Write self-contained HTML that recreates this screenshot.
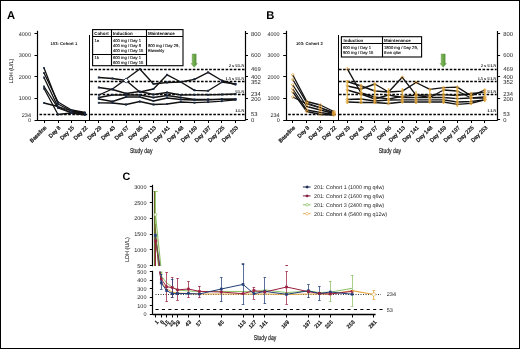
<!DOCTYPE html><html><head><meta charset="utf-8"><style>html,body{margin:0;padding:0;background:#fff;}svg{display:block;will-change:transform;}text{font-family:"Liberation Sans", sans-serif;text-rendering:geometricPrecision;}</style></head><body>
<svg width="520" height="349" viewBox="0 0 520 349">
<defs><linearGradient id="ag" x1="0" x2="1" y1="0" y2="0"><stop offset="0" stop-color="#8cc067"/><stop offset="1" stop-color="#4f8f31"/></linearGradient></defs>
<rect x="0" y="0" width="520" height="349" fill="#fff"/>
<text x="7.00" y="18.80" font-size="11.2" text-anchor="start" font-weight="bold" fill="#000" >A</text>
<line x1="37.50" y1="30.80" x2="37.50" y2="120.50" stroke="#000" stroke-width="1.2" />
<line x1="34.50" y1="33.50" x2="37.50" y2="33.50" stroke="#000" stroke-width="1" />
<text x="31.00" y="35.80" font-size="5.5" text-anchor="end" font-weight="normal" fill="#222" >4000</text>
<line x1="34.50" y1="55.50" x2="37.50" y2="55.50" stroke="#000" stroke-width="1" />
<text x="31.00" y="57.35" font-size="5.5" text-anchor="end" font-weight="normal" fill="#222" >3000</text>
<line x1="34.50" y1="76.50" x2="37.50" y2="76.50" stroke="#000" stroke-width="1" />
<text x="31.00" y="78.90" font-size="5.5" text-anchor="end" font-weight="normal" fill="#222" >2000</text>
<line x1="34.50" y1="98.50" x2="37.50" y2="98.50" stroke="#000" stroke-width="1" />
<text x="31.00" y="100.45" font-size="5.5" text-anchor="end" font-weight="normal" fill="#222" >1000</text>
<text x="31.00" y="116.96" font-size="5.5" text-anchor="end" font-weight="normal" fill="#222" >234</text>
<text x="31.00" y="122.00" font-size="5.5" text-anchor="end" font-weight="normal" fill="#222" >0</text>
<line x1="34.50" y1="120.50" x2="245.50" y2="120.50" stroke="#000" stroke-width="1.2" />
<line x1="44.50" y1="120.00" x2="44.50" y2="123.00" stroke="#000" stroke-width="1" />
<text x="0" y="0" font-size="5.5" text-anchor="end" fill="#222" stroke="#222" stroke-width="0.3" transform="translate(47.00,128.00) rotate(-45)">Baseline</text>
<line x1="58.50" y1="120.00" x2="58.50" y2="123.00" stroke="#000" stroke-width="1" />
<text x="0" y="0" font-size="5.5" text-anchor="end" fill="#222" stroke="#222" stroke-width="0.3" transform="translate(61.00,128.00) rotate(-45)">Day 8</text>
<line x1="71.50" y1="120.00" x2="71.50" y2="123.00" stroke="#000" stroke-width="1" />
<text x="0" y="0" font-size="5.5" text-anchor="end" fill="#222" stroke="#222" stroke-width="0.3" transform="translate(74.50,128.00) rotate(-45)">Day 15</text>
<line x1="85.50" y1="120.00" x2="85.50" y2="123.00" stroke="#000" stroke-width="1" />
<text x="0" y="0" font-size="5.5" text-anchor="end" fill="#222" stroke="#222" stroke-width="0.3" transform="translate(88.00,128.00) rotate(-45)">Day 22</text>
<line x1="89.50" y1="35.00" x2="89.50" y2="120.00" stroke="#000" stroke-width="1" />
<line x1="39.50" y1="114.50" x2="88.30" y2="114.50" stroke="#000" stroke-width="1.3" stroke-dasharray="2.6,1.5" />
<text x="50.50" y="45.10" font-size="4.2" text-anchor="start" font-weight="bold" fill="#111" >103: Cohort 1</text>
<line x1="98.50" y1="120.00" x2="98.50" y2="123.00" stroke="#000" stroke-width="1" />
<text x="0" y="0" font-size="5.5" text-anchor="end" fill="#222" stroke="#222" stroke-width="0.3" transform="translate(101.80,128.00) rotate(-45)">Day 29</text>
<line x1="112.50" y1="120.00" x2="112.50" y2="123.00" stroke="#000" stroke-width="1" />
<text x="0" y="0" font-size="5.5" text-anchor="end" fill="#222" stroke="#222" stroke-width="0.3" transform="translate(115.47,128.00) rotate(-45)">Day 43</text>
<line x1="126.50" y1="120.00" x2="126.50" y2="123.00" stroke="#000" stroke-width="1" />
<text x="0" y="0" font-size="5.5" text-anchor="end" fill="#222" stroke="#222" stroke-width="0.3" transform="translate(129.14,128.00) rotate(-45)">Day 57</text>
<line x1="139.50" y1="120.00" x2="139.50" y2="123.00" stroke="#000" stroke-width="1" />
<text x="0" y="0" font-size="5.5" text-anchor="end" fill="#222" stroke="#222" stroke-width="0.3" transform="translate(142.81,128.00) rotate(-45)">Day 85</text>
<line x1="153.50" y1="120.00" x2="153.50" y2="123.00" stroke="#000" stroke-width="1" />
<text x="0" y="0" font-size="5.5" text-anchor="end" fill="#222" stroke="#222" stroke-width="0.3" transform="translate(156.48,128.00) rotate(-45)">Day 113</text>
<line x1="167.50" y1="120.00" x2="167.50" y2="123.00" stroke="#000" stroke-width="1" />
<text x="0" y="0" font-size="5.5" text-anchor="end" fill="#222" stroke="#222" stroke-width="0.3" transform="translate(170.15,128.00) rotate(-45)">Day 141</text>
<line x1="180.50" y1="120.00" x2="180.50" y2="123.00" stroke="#000" stroke-width="1" />
<text x="0" y="0" font-size="5.5" text-anchor="end" fill="#222" stroke="#222" stroke-width="0.3" transform="translate(183.82,128.00) rotate(-45)">Day 148</text>
<line x1="194.50" y1="120.00" x2="194.50" y2="123.00" stroke="#000" stroke-width="1" />
<text x="0" y="0" font-size="5.5" text-anchor="end" fill="#222" stroke="#222" stroke-width="0.3" transform="translate(197.49,128.00) rotate(-45)">Day 169</text>
<line x1="208.50" y1="120.00" x2="208.50" y2="123.00" stroke="#000" stroke-width="1" />
<text x="0" y="0" font-size="5.5" text-anchor="end" fill="#222" stroke="#222" stroke-width="0.3" transform="translate(211.16,128.00) rotate(-45)">Day 197</text>
<line x1="221.50" y1="120.00" x2="221.50" y2="123.00" stroke="#000" stroke-width="1" />
<text x="0" y="0" font-size="5.5" text-anchor="end" fill="#222" stroke="#222" stroke-width="0.3" transform="translate(224.83,128.00) rotate(-45)">Day 225</text>
<line x1="235.50" y1="120.00" x2="235.50" y2="123.00" stroke="#000" stroke-width="1" />
<text x="0" y="0" font-size="5.5" text-anchor="end" fill="#222" stroke="#222" stroke-width="0.3" transform="translate(238.50,128.00) rotate(-45)">Day 253</text>
<line x1="245.50" y1="31.00" x2="245.50" y2="120.50" stroke="#000" stroke-width="1.2" />
<line x1="245.50" y1="33.50" x2="248.00" y2="33.50" stroke="#000" stroke-width="1" />
<line x1="245.50" y1="55.50" x2="248.00" y2="55.50" stroke="#000" stroke-width="1" />
<line x1="245.50" y1="76.50" x2="248.00" y2="76.50" stroke="#000" stroke-width="1" />
<line x1="245.50" y1="98.50" x2="248.00" y2="98.50" stroke="#000" stroke-width="1" />
<line x1="245.50" y1="119.50" x2="248.00" y2="119.50" stroke="#000" stroke-width="1" />
<text x="251.10" y="35.64" font-size="5.8" text-anchor="start" font-weight="normal" fill="#222" >800</text>
<text x="251.10" y="57.18" font-size="5.8" text-anchor="start" font-weight="normal" fill="#222" >600</text>
<text x="251.10" y="71.29" font-size="5.8" text-anchor="start" font-weight="normal" fill="#222" >469</text>
<text x="251.10" y="78.72" font-size="5.8" text-anchor="start" font-weight="normal" fill="#222" >400</text>
<text x="251.10" y="83.89" font-size="5.8" text-anchor="start" font-weight="normal" fill="#222" >352</text>
<text x="251.10" y="95.70" font-size="5.8" text-anchor="start" font-weight="normal" fill="#222" >234</text>
<text x="251.10" y="100.66" font-size="5.8" text-anchor="start" font-weight="normal" fill="#222" >200</text>
<text x="251.10" y="116.09" font-size="5.8" text-anchor="start" font-weight="normal" fill="#222" >53</text>
<text x="251.10" y="121.80" font-size="5.8" text-anchor="start" font-weight="normal" fill="#222" >0</text>
<line x1="90.30" y1="69.50" x2="244.50" y2="69.50" stroke="#000" stroke-width="1.3" stroke-dasharray="2.6,1.5" />
<text x="244.30" y="67.19" font-size="4.3" text-anchor="end" font-weight="bold" fill="#222" font-family="Liberation Serif, serif" style="font-family:'Liberation Serif', serif">2 x ULN</text>
<line x1="90.30" y1="81.50" x2="244.50" y2="81.50" stroke="#000" stroke-width="1.3" stroke-dasharray="2.6,1.5" />
<text x="244.30" y="79.79" font-size="4.3" text-anchor="end" font-weight="bold" fill="#222" font-family="Liberation Serif, serif" style="font-family:'Liberation Serif', serif">1.5 x ULN</text>
<line x1="90.30" y1="94.50" x2="244.50" y2="94.50" stroke="#000" stroke-width="1.3" stroke-dasharray="2.6,1.5" />
<text x="244.30" y="92.50" font-size="4.3" text-anchor="end" font-weight="bold" fill="#222" font-family="Liberation Serif, serif" style="font-family:'Liberation Serif', serif">ULN</text>
<line x1="90.30" y1="114.50" x2="244.50" y2="114.50" stroke="#000" stroke-width="1.3" stroke-dasharray="2.6,1.5" />
<text x="244.30" y="111.99" font-size="4.3" text-anchor="end" font-weight="bold" fill="#222" font-family="Liberation Serif, serif" style="font-family:'Liberation Serif', serif">LLN</text>
<text x="0" y="0" font-size="7" text-anchor="middle" fill="#222" stroke="#222" stroke-width="0.2" transform="translate(141.20,153.00) scale(0.72,1)">Study day</text>
<text x="0" y="0" font-size="5.5" text-anchor="middle" fill="#222" stroke="#222" stroke-width="0.1" transform="translate(13.2,71) rotate(-90)">LDH (U/L)</text>
<rect x="92.6" y="29.6" width="90.4" height="36.1" fill="#fff" stroke="#000" stroke-width="1.1"/>
<line x1="92.60" y1="36.50" x2="183.00" y2="36.50" stroke="#000" stroke-width="1.1" />
<line x1="111.50" y1="29.60" x2="111.50" y2="65.70" stroke="#000" stroke-width="1.1" />
<line x1="146.50" y1="29.60" x2="146.50" y2="65.70" stroke="#000" stroke-width="1.1" />
<line x1="92.60" y1="54.50" x2="146.50" y2="54.50" stroke="#000" stroke-width="1.1" />
<text x="94.20" y="35.00" font-size="4.45" text-anchor="start" font-weight="bold" fill="#000" >Cohort</text>
<text x="112.80" y="35.00" font-size="4.45" text-anchor="start" font-weight="bold" fill="#000" >Induction</text>
<text x="147.90" y="35.00" font-size="4.45" text-anchor="start" font-weight="bold" fill="#000" >Maintenance</text>
<text x="94.50" y="42.00" font-size="4.15" text-anchor="start" font-weight="normal" fill="#111" stroke="#111" stroke-width="0.12">1a</text>
<text x="113.00" y="42.00" font-size="4.15" text-anchor="start" font-weight="normal" fill="#111" stroke="#111" stroke-width="0.12">400 mg / Day 1</text>
<text x="113.00" y="47.00" font-size="4.15" text-anchor="start" font-weight="normal" fill="#111" stroke="#111" stroke-width="0.12">400 mg / Day 8</text>
<text x="113.00" y="52.00" font-size="4.15" text-anchor="start" font-weight="normal" fill="#111" stroke="#111" stroke-width="0.12">400 mg / Day 15</text>
<text x="94.50" y="59.00" font-size="4.15" text-anchor="start" font-weight="normal" fill="#111" stroke="#111" stroke-width="0.12">1b</text>
<text x="113.00" y="59.00" font-size="4.15" text-anchor="start" font-weight="normal" fill="#111" stroke="#111" stroke-width="0.12">600 mg / Day 1</text>
<text x="113.00" y="63.80" font-size="4.15" text-anchor="start" font-weight="normal" fill="#111" stroke="#111" stroke-width="0.12">600 mg / Day 15</text>
<text x="148.00" y="47.30" font-size="4.15" text-anchor="start" font-weight="normal" fill="#111" stroke="#111" stroke-width="0.12">800 mg / Day 29,</text>
<text x="148.00" y="52.30" font-size="4.15" text-anchor="start" font-weight="normal" fill="#111" stroke="#111" stroke-width="0.12">Biweekly</text>
<polygon points="192.20,54.00 196.20,54.00 196.20,63.60 197.40,63.60 194.20,67.20 191.00,63.60 192.20,63.60" fill="url(#ag)" stroke="#4f8a33" stroke-width="0.4"/>
<text x="266.30" y="18.80" font-size="11.2" text-anchor="start" font-weight="bold" fill="#000" >B</text>
<line x1="286.50" y1="30.80" x2="286.50" y2="120.50" stroke="#000" stroke-width="1.2" />
<line x1="283.20" y1="33.50" x2="286.20" y2="33.50" stroke="#000" stroke-width="1" />
<text x="279.70" y="35.80" font-size="5.5" text-anchor="end" font-weight="normal" fill="#222" >4000</text>
<line x1="283.20" y1="55.50" x2="286.20" y2="55.50" stroke="#000" stroke-width="1" />
<text x="279.70" y="57.35" font-size="5.5" text-anchor="end" font-weight="normal" fill="#222" >3000</text>
<line x1="283.20" y1="76.50" x2="286.20" y2="76.50" stroke="#000" stroke-width="1" />
<text x="279.70" y="78.90" font-size="5.5" text-anchor="end" font-weight="normal" fill="#222" >2000</text>
<line x1="283.20" y1="98.50" x2="286.20" y2="98.50" stroke="#000" stroke-width="1" />
<text x="279.70" y="100.45" font-size="5.5" text-anchor="end" font-weight="normal" fill="#222" >1000</text>
<text x="279.70" y="116.96" font-size="5.5" text-anchor="end" font-weight="normal" fill="#222" >234</text>
<text x="279.70" y="122.00" font-size="5.5" text-anchor="end" font-weight="normal" fill="#222" >0</text>
<line x1="283.20" y1="120.50" x2="497.60" y2="120.50" stroke="#000" stroke-width="1.2" />
<line x1="292.50" y1="120.00" x2="292.50" y2="123.00" stroke="#000" stroke-width="1" />
<text x="0" y="0" font-size="5.5" text-anchor="end" fill="#222" stroke="#222" stroke-width="0.3" transform="translate(295.70,128.00) rotate(-45)">Baseline</text>
<line x1="306.50" y1="120.00" x2="306.50" y2="123.00" stroke="#000" stroke-width="1" />
<text x="0" y="0" font-size="5.5" text-anchor="end" fill="#222" stroke="#222" stroke-width="0.3" transform="translate(309.70,128.00) rotate(-45)">Day 8</text>
<line x1="320.50" y1="120.00" x2="320.50" y2="123.00" stroke="#000" stroke-width="1" />
<text x="0" y="0" font-size="5.5" text-anchor="end" fill="#222" stroke="#222" stroke-width="0.3" transform="translate(323.20,128.00) rotate(-45)">Day 15</text>
<line x1="333.50" y1="120.00" x2="333.50" y2="123.00" stroke="#000" stroke-width="1" />
<text x="0" y="0" font-size="5.5" text-anchor="end" fill="#222" stroke="#222" stroke-width="0.3" transform="translate(336.70,128.00) rotate(-45)">Day 22</text>
<line x1="338.50" y1="35.00" x2="338.50" y2="120.00" stroke="#000" stroke-width="1" />
<line x1="288.20" y1="114.50" x2="337.00" y2="114.50" stroke="#000" stroke-width="1.3" stroke-dasharray="2.6,1.5" />
<text x="296.00" y="45.10" font-size="4.2" text-anchor="start" font-weight="bold" fill="#111" >103: Cohort 2</text>
<line x1="347.50" y1="120.00" x2="347.50" y2="123.00" stroke="#000" stroke-width="1" />
<text x="0" y="0" font-size="5.5" text-anchor="end" fill="#222" stroke="#222" stroke-width="0.3" transform="translate(350.30,128.00) rotate(-45)">Day 29</text>
<line x1="361.50" y1="120.00" x2="361.50" y2="123.00" stroke="#000" stroke-width="1" />
<text x="0" y="0" font-size="5.5" text-anchor="end" fill="#222" stroke="#222" stroke-width="0.3" transform="translate(364.05,128.00) rotate(-45)">Day 43</text>
<line x1="374.50" y1="120.00" x2="374.50" y2="123.00" stroke="#000" stroke-width="1" />
<text x="0" y="0" font-size="5.5" text-anchor="end" fill="#222" stroke="#222" stroke-width="0.3" transform="translate(377.80,128.00) rotate(-45)">Day 57</text>
<line x1="388.50" y1="120.00" x2="388.50" y2="123.00" stroke="#000" stroke-width="1" />
<text x="0" y="0" font-size="5.5" text-anchor="end" fill="#222" stroke="#222" stroke-width="0.3" transform="translate(391.55,128.00) rotate(-45)">Day 85</text>
<line x1="402.50" y1="120.00" x2="402.50" y2="123.00" stroke="#000" stroke-width="1" />
<text x="0" y="0" font-size="5.5" text-anchor="end" fill="#222" stroke="#222" stroke-width="0.3" transform="translate(405.30,128.00) rotate(-45)">Day 113</text>
<line x1="416.50" y1="120.00" x2="416.50" y2="123.00" stroke="#000" stroke-width="1" />
<text x="0" y="0" font-size="5.5" text-anchor="end" fill="#222" stroke="#222" stroke-width="0.3" transform="translate(419.05,128.00) rotate(-45)">Day 141</text>
<line x1="429.50" y1="120.00" x2="429.50" y2="123.00" stroke="#000" stroke-width="1" />
<text x="0" y="0" font-size="5.5" text-anchor="end" fill="#222" stroke="#222" stroke-width="0.3" transform="translate(432.80,128.00) rotate(-45)">Day 148</text>
<line x1="443.50" y1="120.00" x2="443.50" y2="123.00" stroke="#000" stroke-width="1" />
<text x="0" y="0" font-size="5.5" text-anchor="end" fill="#222" stroke="#222" stroke-width="0.3" transform="translate(446.55,128.00) rotate(-45)">Day 169</text>
<line x1="457.50" y1="120.00" x2="457.50" y2="123.00" stroke="#000" stroke-width="1" />
<text x="0" y="0" font-size="5.5" text-anchor="end" fill="#222" stroke="#222" stroke-width="0.3" transform="translate(460.30,128.00) rotate(-45)">Day 197</text>
<line x1="471.50" y1="120.00" x2="471.50" y2="123.00" stroke="#000" stroke-width="1" />
<text x="0" y="0" font-size="5.5" text-anchor="end" fill="#222" stroke="#222" stroke-width="0.3" transform="translate(474.05,128.00) rotate(-45)">Day 225</text>
<line x1="484.50" y1="120.00" x2="484.50" y2="123.00" stroke="#000" stroke-width="1" />
<text x="0" y="0" font-size="5.5" text-anchor="end" fill="#222" stroke="#222" stroke-width="0.3" transform="translate(487.80,128.00) rotate(-45)">Day 253</text>
<line x1="497.50" y1="31.00" x2="497.50" y2="120.50" stroke="#000" stroke-width="1.2" />
<line x1="497.60" y1="33.50" x2="500.10" y2="33.50" stroke="#000" stroke-width="1" />
<line x1="497.60" y1="55.50" x2="500.10" y2="55.50" stroke="#000" stroke-width="1" />
<line x1="497.60" y1="76.50" x2="500.10" y2="76.50" stroke="#000" stroke-width="1" />
<line x1="497.60" y1="98.50" x2="500.10" y2="98.50" stroke="#000" stroke-width="1" />
<line x1="497.60" y1="119.50" x2="500.10" y2="119.50" stroke="#000" stroke-width="1" />
<text x="503.20" y="35.64" font-size="5.8" text-anchor="start" font-weight="normal" fill="#222" >800</text>
<text x="503.20" y="57.18" font-size="5.8" text-anchor="start" font-weight="normal" fill="#222" >600</text>
<text x="503.20" y="71.29" font-size="5.8" text-anchor="start" font-weight="normal" fill="#222" >469</text>
<text x="503.20" y="78.72" font-size="5.8" text-anchor="start" font-weight="normal" fill="#222" >400</text>
<text x="503.20" y="83.89" font-size="5.8" text-anchor="start" font-weight="normal" fill="#222" >352</text>
<text x="503.20" y="95.70" font-size="5.8" text-anchor="start" font-weight="normal" fill="#222" >234</text>
<text x="503.20" y="100.66" font-size="5.8" text-anchor="start" font-weight="normal" fill="#222" >200</text>
<text x="503.20" y="116.09" font-size="5.8" text-anchor="start" font-weight="normal" fill="#222" >53</text>
<text x="503.20" y="121.80" font-size="5.8" text-anchor="start" font-weight="normal" fill="#222" >0</text>
<line x1="339.00" y1="69.50" x2="496.60" y2="69.50" stroke="#000" stroke-width="1.3" stroke-dasharray="2.6,1.5" />
<text x="496.40" y="67.19" font-size="4.3" text-anchor="end" font-weight="bold" fill="#222" font-family="Liberation Serif, serif" style="font-family:'Liberation Serif', serif">2 x ULN</text>
<line x1="339.00" y1="81.50" x2="496.60" y2="81.50" stroke="#000" stroke-width="1.3" stroke-dasharray="2.6,1.5" />
<text x="496.40" y="79.79" font-size="4.3" text-anchor="end" font-weight="bold" fill="#222" font-family="Liberation Serif, serif" style="font-family:'Liberation Serif', serif">1.5 x ULN</text>
<line x1="339.00" y1="94.50" x2="496.60" y2="94.50" stroke="#000" stroke-width="1.3" stroke-dasharray="2.6,1.5" />
<text x="496.40" y="92.50" font-size="4.3" text-anchor="end" font-weight="bold" fill="#222" font-family="Liberation Serif, serif" style="font-family:'Liberation Serif', serif">ULN</text>
<line x1="339.00" y1="114.50" x2="496.60" y2="114.50" stroke="#000" stroke-width="1.3" stroke-dasharray="2.6,1.5" />
<text x="496.40" y="111.99" font-size="4.3" text-anchor="end" font-weight="bold" fill="#222" font-family="Liberation Serif, serif" style="font-family:'Liberation Serif', serif">LLN</text>
<text x="0" y="0" font-size="7" text-anchor="middle" fill="#222" stroke="#222" stroke-width="0.2" transform="translate(389.90,153.00) scale(0.72,1)">Study day</text>
<rect x="341.4" y="36.7" width="80.20000000000005" height="20.299999999999997" fill="#fff" stroke="#000" stroke-width="1.1"/>
<line x1="341.40" y1="43.50" x2="421.60" y2="43.50" stroke="#000" stroke-width="1.1" />
<line x1="382.50" y1="36.70" x2="382.50" y2="57.00" stroke="#000" stroke-width="1.1" />
<text x="343.50" y="42.00" font-size="4.4" text-anchor="start" font-weight="bold" fill="#000" >Induction</text>
<text x="384.00" y="42.00" font-size="4.4" text-anchor="start" font-weight="bold" fill="#000" >Maintenance</text>
<text x="343.00" y="49.00" font-size="4.15" text-anchor="start" font-weight="normal" fill="#111" stroke="#111" stroke-width="0.12">600 mg / Day 1</text>
<text x="343.00" y="54.00" font-size="4.15" text-anchor="start" font-weight="normal" fill="#111" stroke="#111" stroke-width="0.12">900 mg / Day 15</text>
<text x="384.00" y="49.00" font-size="4.15" text-anchor="start" font-weight="normal" fill="#111" stroke="#111" stroke-width="0.12">1800 mg / Day 29,</text>
<text x="384.00" y="54.00" font-size="4.15" text-anchor="start" font-weight="normal" fill="#111" stroke="#111" stroke-width="0.12">then q4w</text>
<polygon points="441.20,54.00 445.20,54.00 445.20,63.60 446.40,63.60 443.20,67.20 440.00,63.60 441.20,63.60" fill="url(#ag)" stroke="#4f8a33" stroke-width="0.4"/>
<text x="122.40" y="180.10" font-size="10.8" text-anchor="start" font-weight="bold" fill="#000" >C</text>
<line x1="152.50" y1="184.80" x2="152.50" y2="266.30" stroke="#000" stroke-width="1.2" />
<line x1="152.50" y1="270.80" x2="152.50" y2="314.50" stroke="#000" stroke-width="1.2" />
<line x1="149.80" y1="186.50" x2="152.80" y2="186.50" stroke="#000" stroke-width="1" />
<text x="146.50" y="188.80" font-size="5.5" text-anchor="end" font-weight="normal" fill="#222" >3000</text>
<line x1="149.80" y1="202.50" x2="152.80" y2="202.50" stroke="#000" stroke-width="1" />
<text x="146.50" y="204.54" font-size="5.5" text-anchor="end" font-weight="normal" fill="#222" >2500</text>
<line x1="149.80" y1="218.50" x2="152.80" y2="218.50" stroke="#000" stroke-width="1" />
<text x="146.50" y="220.28" font-size="5.5" text-anchor="end" font-weight="normal" fill="#222" >2000</text>
<line x1="149.80" y1="234.50" x2="152.80" y2="234.50" stroke="#000" stroke-width="1" />
<text x="146.50" y="236.02" font-size="5.5" text-anchor="end" font-weight="normal" fill="#222" >1500</text>
<line x1="149.80" y1="249.50" x2="152.80" y2="249.50" stroke="#000" stroke-width="1" />
<text x="146.50" y="251.76" font-size="5.5" text-anchor="end" font-weight="normal" fill="#222" >1000</text>
<line x1="149.80" y1="265.50" x2="152.80" y2="265.50" stroke="#000" stroke-width="1" />
<text x="146.50" y="267.50" font-size="5.5" text-anchor="end" font-weight="normal" fill="#222" >500</text>
<line x1="149.80" y1="271.50" x2="152.80" y2="271.50" stroke="#000" stroke-width="1" />
<text x="146.50" y="273.80" font-size="5.5" text-anchor="end" font-weight="normal" fill="#222" >500</text>
<line x1="149.80" y1="280.50" x2="152.80" y2="280.50" stroke="#000" stroke-width="1" />
<text x="146.50" y="282.24" font-size="5.5" text-anchor="end" font-weight="normal" fill="#222" >400</text>
<line x1="149.80" y1="288.50" x2="152.80" y2="288.50" stroke="#000" stroke-width="1" />
<text x="146.50" y="290.68" font-size="5.5" text-anchor="end" font-weight="normal" fill="#222" >300</text>
<line x1="149.80" y1="297.50" x2="152.80" y2="297.50" stroke="#000" stroke-width="1" />
<text x="146.50" y="299.12" font-size="5.5" text-anchor="end" font-weight="normal" fill="#222" >200</text>
<line x1="149.80" y1="305.50" x2="152.80" y2="305.50" stroke="#000" stroke-width="1" />
<text x="146.50" y="307.56" font-size="5.5" text-anchor="end" font-weight="normal" fill="#222" >100</text>
<line x1="149.80" y1="314.50" x2="152.80" y2="314.50" stroke="#000" stroke-width="1" />
<text x="146.50" y="316.00" font-size="5.5" text-anchor="end" font-weight="normal" fill="#222" >0</text>
<line x1="152.80" y1="314.50" x2="375.60" y2="314.50" stroke="#000" stroke-width="1.5" />
<line x1="155.50" y1="314.00" x2="155.50" y2="317.50" stroke="#000" stroke-width="1" />
<text x="0" y="0" font-size="5.3" text-anchor="end" fill="#222" stroke="#222" stroke-width="0.3" transform="translate(158.78,322.50) rotate(-45)">1</text>
<line x1="161.50" y1="314.00" x2="161.50" y2="317.50" stroke="#000" stroke-width="1" />
<text x="0" y="0" font-size="5.3" text-anchor="end" fill="#222" stroke="#222" stroke-width="0.3" transform="translate(164.23,322.50) rotate(-45)">8</text>
<line x1="166.50" y1="314.00" x2="166.50" y2="317.50" stroke="#000" stroke-width="1" />
<text x="0" y="0" font-size="5.3" text-anchor="end" fill="#222" stroke="#222" stroke-width="0.3" transform="translate(169.69,322.50) rotate(-45)">15</text>
<line x1="172.50" y1="314.00" x2="172.50" y2="317.50" stroke="#000" stroke-width="1" />
<text x="0" y="0" font-size="5.3" text-anchor="end" fill="#222" stroke="#222" stroke-width="0.3" transform="translate(175.14,322.50) rotate(-45)">22</text>
<line x1="177.50" y1="314.00" x2="177.50" y2="317.50" stroke="#000" stroke-width="1" />
<text x="0" y="0" font-size="5.3" text-anchor="end" fill="#222" stroke="#222" stroke-width="0.3" transform="translate(180.59,322.50) rotate(-45)">29</text>
<line x1="188.50" y1="314.00" x2="188.50" y2="317.50" stroke="#000" stroke-width="1" />
<text x="0" y="0" font-size="5.3" text-anchor="end" fill="#222" stroke="#222" stroke-width="0.3" transform="translate(191.50,322.50) rotate(-45)">43</text>
<line x1="199.50" y1="314.00" x2="199.50" y2="317.50" stroke="#000" stroke-width="1" />
<text x="0" y="0" font-size="5.3" text-anchor="end" fill="#222" stroke="#222" stroke-width="0.3" transform="translate(202.40,322.50) rotate(-45)">57</text>
<line x1="221.50" y1="314.00" x2="221.50" y2="317.50" stroke="#000" stroke-width="1" />
<text x="0" y="0" font-size="5.3" text-anchor="end" fill="#222" stroke="#222" stroke-width="0.3" transform="translate(224.22,322.50) rotate(-45)">85</text>
<line x1="243.50" y1="314.00" x2="243.50" y2="317.50" stroke="#000" stroke-width="1" />
<text x="0" y="0" font-size="5.3" text-anchor="end" fill="#222" stroke="#222" stroke-width="0.3" transform="translate(246.03,322.50) rotate(-45)">113</text>
<line x1="253.50" y1="314.00" x2="253.50" y2="317.50" stroke="#000" stroke-width="1" />
<text x="0" y="0" font-size="5.3" text-anchor="end" fill="#222" stroke="#222" stroke-width="0.3" transform="translate(256.93,322.50) rotate(-45)">127</text>
<line x1="264.50" y1="314.00" x2="264.50" y2="317.50" stroke="#000" stroke-width="1" />
<text x="0" y="0" font-size="5.3" text-anchor="end" fill="#222" stroke="#222" stroke-width="0.3" transform="translate(267.84,322.50) rotate(-45)">141</text>
<line x1="286.50" y1="314.00" x2="286.50" y2="317.50" stroke="#000" stroke-width="1" />
<text x="0" y="0" font-size="5.3" text-anchor="end" fill="#222" stroke="#222" stroke-width="0.3" transform="translate(289.65,322.50) rotate(-45)">169</text>
<line x1="308.50" y1="314.00" x2="308.50" y2="317.50" stroke="#000" stroke-width="1" />
<text x="0" y="0" font-size="5.3" text-anchor="end" fill="#222" stroke="#222" stroke-width="0.3" transform="translate(311.46,322.50) rotate(-45)">197</text>
<line x1="319.50" y1="314.00" x2="319.50" y2="317.50" stroke="#000" stroke-width="1" />
<text x="0" y="0" font-size="5.3" text-anchor="end" fill="#222" stroke="#222" stroke-width="0.3" transform="translate(322.37,322.50) rotate(-45)">211</text>
<line x1="330.50" y1="314.00" x2="330.50" y2="317.50" stroke="#000" stroke-width="1" />
<text x="0" y="0" font-size="5.3" text-anchor="end" fill="#222" stroke="#222" stroke-width="0.3" transform="translate(333.27,322.50) rotate(-45)">225</text>
<line x1="352.50" y1="314.00" x2="352.50" y2="317.50" stroke="#000" stroke-width="1" />
<text x="0" y="0" font-size="5.3" text-anchor="end" fill="#222" stroke="#222" stroke-width="0.3" transform="translate(355.09,322.50) rotate(-45)">253</text>
<line x1="373.50" y1="314.00" x2="373.50" y2="317.50" stroke="#000" stroke-width="1" />
<text x="0" y="0" font-size="5.3" text-anchor="end" fill="#222" stroke="#222" stroke-width="0.3" transform="translate(376.90,322.50) rotate(-45)">281</text>
<line x1="155.50" y1="294.50" x2="381.00" y2="294.50" stroke="#333" stroke-width="1" stroke-dasharray="1,1.5" />
<text x="386.80" y="295.80" font-size="5.5" text-anchor="start" font-weight="normal" fill="#222" >234</text>
<line x1="155.50" y1="309.50" x2="383.00" y2="309.50" stroke="#000" stroke-width="1.1" stroke-dasharray="3.1,3.3" />
<text x="386.80" y="311.50" font-size="5.5" text-anchor="start" font-weight="normal" fill="#222" >53</text>
<text x="0" y="0" font-size="7" text-anchor="middle" fill="#222" stroke="#222" stroke-width="0.2" transform="translate(265,339.5) scale(0.72,1)">Study day</text>
<text x="0" y="0" font-size="5.5" text-anchor="middle" fill="#222" stroke="#222" stroke-width="0.1" transform="translate(129.3,249.6) rotate(-90)">LDH (U/L)</text>
<line x1="302.90" y1="187.00" x2="310.60" y2="187.00" stroke="#1e2d55" stroke-width="1.0" />
<rect x="305.9" y="185.8" width="2.4" height="2.4" fill="#1e2d55" transform="rotate(45 307.1 187.0)"/>
<text x="314.00" y="189.00" font-size="5.4" text-anchor="start" font-weight="normal" fill="#222" >201: Cohort 1 (1000 mg q4w)</text>
<line x1="302.90" y1="195.90" x2="310.60" y2="195.90" stroke="#7e1b38" stroke-width="1.0" />
<rect x="305.9" y="194.70000000000002" width="2.4" height="2.4" fill="#7e1b38" transform="rotate(45 307.1 195.9)"/>
<text x="314.00" y="197.90" font-size="5.4" text-anchor="start" font-weight="normal" fill="#222" >201: Cohort 2 (1600 mg q6w)</text>
<line x1="302.90" y1="204.80" x2="310.60" y2="204.80" stroke="#8cc063" stroke-width="1.0" />
<circle cx="307.1" cy="204.8" r="1.3" fill="#fff" stroke="#8cc063" stroke-width="0.7"/>
<text x="314.00" y="206.80" font-size="5.4" text-anchor="start" font-weight="normal" fill="#222" >201: Cohort 3 (2400 mg q8w)</text>
<line x1="302.90" y1="213.70" x2="310.60" y2="213.70" stroke="#e3ad5a" stroke-width="1.0" />
<rect x="305.9" y="212.5" width="2.4" height="2.4" fill="#fff" stroke="#e3ad5a" stroke-width="0.7" transform="rotate(45 307.1 213.7)"/>
<text x="314.00" y="215.70" font-size="5.4" text-anchor="start" font-weight="normal" fill="#222" >201: Cohort 4 (5400 mg q12w)</text>
<polyline points="44.00,68.00 58.00,104.00 71.50,111.00 85.00,113.00" fill="none" stroke="#111" stroke-width="1.3" stroke-linejoin="round" />
<polyline points="44.00,73.00 58.00,102.00 71.50,110.00 85.00,112.50" fill="none" stroke="#111" stroke-width="1.3" stroke-linejoin="round" />
<polyline points="44.00,77.50 58.00,107.00 71.50,112.50 85.00,114.00" fill="none" stroke="#111" stroke-width="1.3" stroke-linejoin="round" />
<polyline points="44.00,86.50 58.00,108.00 71.50,113.00 85.00,114.50" fill="none" stroke="#111" stroke-width="1.3" stroke-linejoin="round" />
<polyline points="44.00,88.50 58.00,114.50 71.50,113.00 85.00,115.00" fill="none" stroke="#111" stroke-width="1.3" stroke-linejoin="round" />
<polyline points="44.00,103.00 58.00,106.50 71.50,111.00 85.00,113.50" fill="none" stroke="#111" stroke-width="1.3" stroke-linejoin="round" />
<rect x="43.35" y="67.35" width="1.30" height="1.30" fill="#1c2840" stroke="#1c2840" stroke-width="0.6"/>
<rect x="57.35" y="103.35" width="1.30" height="1.30" fill="#1c2840" stroke="#1c2840" stroke-width="0.6"/>
<rect x="70.85" y="110.35" width="1.30" height="1.30" fill="#1c2840" stroke="#1c2840" stroke-width="0.6"/>
<rect x="84.35" y="112.35" width="1.30" height="1.30" fill="#1c2840" stroke="#1c2840" stroke-width="0.6"/>
<rect x="43.35" y="72.35" width="1.30" height="1.30" fill="#1c2840" stroke="#1c2840" stroke-width="0.6"/>
<rect x="57.35" y="101.35" width="1.30" height="1.30" fill="#1c2840" stroke="#1c2840" stroke-width="0.6"/>
<rect x="70.85" y="109.35" width="1.30" height="1.30" fill="#1c2840" stroke="#1c2840" stroke-width="0.6"/>
<rect x="84.35" y="111.85" width="1.30" height="1.30" fill="#1c2840" stroke="#1c2840" stroke-width="0.6"/>
<rect x="43.35" y="76.85" width="1.30" height="1.30" fill="#1c2840" stroke="#1c2840" stroke-width="0.6"/>
<rect x="57.35" y="106.35" width="1.30" height="1.30" fill="#1c2840" stroke="#1c2840" stroke-width="0.6"/>
<rect x="70.85" y="111.85" width="1.30" height="1.30" fill="#1c2840" stroke="#1c2840" stroke-width="0.6"/>
<rect x="84.35" y="113.35" width="1.30" height="1.30" fill="#1c2840" stroke="#1c2840" stroke-width="0.6"/>
<rect x="43.35" y="85.85" width="1.30" height="1.30" fill="#1c2840" stroke="#1c2840" stroke-width="0.6"/>
<rect x="57.35" y="107.35" width="1.30" height="1.30" fill="#1c2840" stroke="#1c2840" stroke-width="0.6"/>
<rect x="70.85" y="112.35" width="1.30" height="1.30" fill="#1c2840" stroke="#1c2840" stroke-width="0.6"/>
<rect x="84.35" y="113.85" width="1.30" height="1.30" fill="#1c2840" stroke="#1c2840" stroke-width="0.6"/>
<rect x="43.35" y="87.85" width="1.30" height="1.30" fill="#1c2840" stroke="#1c2840" stroke-width="0.6"/>
<rect x="57.35" y="113.85" width="1.30" height="1.30" fill="#1c2840" stroke="#1c2840" stroke-width="0.6"/>
<rect x="70.85" y="112.35" width="1.30" height="1.30" fill="#1c2840" stroke="#1c2840" stroke-width="0.6"/>
<rect x="84.35" y="114.35" width="1.30" height="1.30" fill="#1c2840" stroke="#1c2840" stroke-width="0.6"/>
<rect x="43.35" y="102.35" width="1.30" height="1.30" fill="#1c2840" stroke="#1c2840" stroke-width="0.6"/>
<rect x="57.35" y="105.85" width="1.30" height="1.30" fill="#1c2840" stroke="#1c2840" stroke-width="0.6"/>
<rect x="70.85" y="110.35" width="1.30" height="1.30" fill="#1c2840" stroke="#1c2840" stroke-width="0.6"/>
<rect x="84.35" y="112.85" width="1.30" height="1.30" fill="#1c2840" stroke="#1c2840" stroke-width="0.6"/>
<polyline points="98.80,95.00 112.47,89.00 126.14,79.00 139.81,69.00 153.48,84.00 167.15,82.50 180.82,82.00 194.49,79.30 208.16,72.40 221.83,80.50 235.50,84.50" fill="none" stroke="#111" stroke-width="1.35" stroke-linejoin="round" />
<polyline points="98.80,77.50 112.47,78.50 126.14,80.50 139.81,92.00 153.48,89.00 167.15,74.80 180.82,82.00 194.49,90.30 208.16,90.80 221.83,82.20 235.50,84.00" fill="none" stroke="#111" stroke-width="1.35" stroke-linejoin="round" />
<polyline points="98.80,87.50 112.47,89.50 126.14,93.50 139.81,91.50 153.48,94.50 167.15,92.50 180.82,95.00 194.49,94.80 208.16,94.80 221.83,94.50 235.50,94.00" fill="none" stroke="#111" stroke-width="1.35" stroke-linejoin="round" />
<polyline points="98.80,97.50 112.47,95.00 126.14,95.00 139.81,95.00 153.48,97.50 167.15,95.50 180.82,97.50 194.49,99.50 208.16,99.50 221.83,99.30 235.50,99.00" fill="none" stroke="#111" stroke-width="1.35" stroke-linejoin="round" />
<polyline points="98.80,99.00 112.47,101.50 126.14,97.00 139.81,97.00 153.48,101.00 167.15,98.00 180.82,99.50 194.49,100.00 208.16,99.80 221.83,99.20 235.50,99.50" fill="none" stroke="#111" stroke-width="1.35" stroke-linejoin="round" />
<polyline points="98.80,102.80 112.47,103.00 126.14,104.50 139.81,101.50 153.48,104.50 167.15,104.00 180.82,102.00 194.49,102.70 208.16,102.10 221.83,101.20 235.50,99.80" fill="none" stroke="#111" stroke-width="1.35" stroke-linejoin="round" />
<rect x="98.15" y="94.35" width="1.30" height="1.30" fill="#1c2840" stroke="#1c2840" stroke-width="0.6"/>
<rect x="111.82" y="88.35" width="1.30" height="1.30" fill="#1c2840" stroke="#1c2840" stroke-width="0.6"/>
<rect x="125.49" y="78.35" width="1.30" height="1.30" fill="#1c2840" stroke="#1c2840" stroke-width="0.6"/>
<rect x="139.16" y="68.35" width="1.30" height="1.30" fill="#1c2840" stroke="#1c2840" stroke-width="0.6"/>
<rect x="152.83" y="83.35" width="1.30" height="1.30" fill="#1c2840" stroke="#1c2840" stroke-width="0.6"/>
<rect x="166.50" y="81.85" width="1.30" height="1.30" fill="#1c2840" stroke="#1c2840" stroke-width="0.6"/>
<rect x="180.17" y="81.35" width="1.30" height="1.30" fill="#1c2840" stroke="#1c2840" stroke-width="0.6"/>
<rect x="193.84" y="78.65" width="1.30" height="1.30" fill="#1c2840" stroke="#1c2840" stroke-width="0.6"/>
<rect x="207.51" y="71.75" width="1.30" height="1.30" fill="#1c2840" stroke="#1c2840" stroke-width="0.6"/>
<rect x="221.18" y="79.85" width="1.30" height="1.30" fill="#1c2840" stroke="#1c2840" stroke-width="0.6"/>
<rect x="234.85" y="83.85" width="1.30" height="1.30" fill="#1c2840" stroke="#1c2840" stroke-width="0.6"/>
<rect x="98.15" y="76.85" width="1.30" height="1.30" fill="#1c2840" stroke="#1c2840" stroke-width="0.6"/>
<rect x="111.82" y="77.85" width="1.30" height="1.30" fill="#1c2840" stroke="#1c2840" stroke-width="0.6"/>
<rect x="125.49" y="79.85" width="1.30" height="1.30" fill="#1c2840" stroke="#1c2840" stroke-width="0.6"/>
<rect x="139.16" y="91.35" width="1.30" height="1.30" fill="#1c2840" stroke="#1c2840" stroke-width="0.6"/>
<rect x="152.83" y="88.35" width="1.30" height="1.30" fill="#1c2840" stroke="#1c2840" stroke-width="0.6"/>
<rect x="166.50" y="74.15" width="1.30" height="1.30" fill="#1c2840" stroke="#1c2840" stroke-width="0.6"/>
<rect x="180.17" y="81.35" width="1.30" height="1.30" fill="#1c2840" stroke="#1c2840" stroke-width="0.6"/>
<rect x="193.84" y="89.65" width="1.30" height="1.30" fill="#1c2840" stroke="#1c2840" stroke-width="0.6"/>
<rect x="207.51" y="90.15" width="1.30" height="1.30" fill="#1c2840" stroke="#1c2840" stroke-width="0.6"/>
<rect x="221.18" y="81.55" width="1.30" height="1.30" fill="#1c2840" stroke="#1c2840" stroke-width="0.6"/>
<rect x="234.85" y="83.35" width="1.30" height="1.30" fill="#1c2840" stroke="#1c2840" stroke-width="0.6"/>
<rect x="98.15" y="86.85" width="1.30" height="1.30" fill="#1c2840" stroke="#1c2840" stroke-width="0.6"/>
<rect x="111.82" y="88.85" width="1.30" height="1.30" fill="#1c2840" stroke="#1c2840" stroke-width="0.6"/>
<rect x="125.49" y="92.85" width="1.30" height="1.30" fill="#1c2840" stroke="#1c2840" stroke-width="0.6"/>
<rect x="139.16" y="90.85" width="1.30" height="1.30" fill="#1c2840" stroke="#1c2840" stroke-width="0.6"/>
<rect x="152.83" y="93.85" width="1.30" height="1.30" fill="#1c2840" stroke="#1c2840" stroke-width="0.6"/>
<rect x="166.50" y="91.85" width="1.30" height="1.30" fill="#1c2840" stroke="#1c2840" stroke-width="0.6"/>
<rect x="180.17" y="94.35" width="1.30" height="1.30" fill="#1c2840" stroke="#1c2840" stroke-width="0.6"/>
<rect x="193.84" y="94.15" width="1.30" height="1.30" fill="#1c2840" stroke="#1c2840" stroke-width="0.6"/>
<rect x="207.51" y="94.15" width="1.30" height="1.30" fill="#1c2840" stroke="#1c2840" stroke-width="0.6"/>
<rect x="221.18" y="93.85" width="1.30" height="1.30" fill="#1c2840" stroke="#1c2840" stroke-width="0.6"/>
<rect x="234.85" y="93.35" width="1.30" height="1.30" fill="#1c2840" stroke="#1c2840" stroke-width="0.6"/>
<rect x="98.15" y="96.85" width="1.30" height="1.30" fill="#1c2840" stroke="#1c2840" stroke-width="0.6"/>
<rect x="111.82" y="94.35" width="1.30" height="1.30" fill="#1c2840" stroke="#1c2840" stroke-width="0.6"/>
<rect x="125.49" y="94.35" width="1.30" height="1.30" fill="#1c2840" stroke="#1c2840" stroke-width="0.6"/>
<rect x="139.16" y="94.35" width="1.30" height="1.30" fill="#1c2840" stroke="#1c2840" stroke-width="0.6"/>
<rect x="152.83" y="96.85" width="1.30" height="1.30" fill="#1c2840" stroke="#1c2840" stroke-width="0.6"/>
<rect x="166.50" y="94.85" width="1.30" height="1.30" fill="#1c2840" stroke="#1c2840" stroke-width="0.6"/>
<rect x="180.17" y="96.85" width="1.30" height="1.30" fill="#1c2840" stroke="#1c2840" stroke-width="0.6"/>
<rect x="193.84" y="98.85" width="1.30" height="1.30" fill="#1c2840" stroke="#1c2840" stroke-width="0.6"/>
<rect x="207.51" y="98.85" width="1.30" height="1.30" fill="#1c2840" stroke="#1c2840" stroke-width="0.6"/>
<rect x="221.18" y="98.65" width="1.30" height="1.30" fill="#1c2840" stroke="#1c2840" stroke-width="0.6"/>
<rect x="234.85" y="98.35" width="1.30" height="1.30" fill="#1c2840" stroke="#1c2840" stroke-width="0.6"/>
<rect x="98.15" y="98.35" width="1.30" height="1.30" fill="#1c2840" stroke="#1c2840" stroke-width="0.6"/>
<rect x="111.82" y="100.85" width="1.30" height="1.30" fill="#1c2840" stroke="#1c2840" stroke-width="0.6"/>
<rect x="125.49" y="96.35" width="1.30" height="1.30" fill="#1c2840" stroke="#1c2840" stroke-width="0.6"/>
<rect x="139.16" y="96.35" width="1.30" height="1.30" fill="#1c2840" stroke="#1c2840" stroke-width="0.6"/>
<rect x="152.83" y="100.35" width="1.30" height="1.30" fill="#1c2840" stroke="#1c2840" stroke-width="0.6"/>
<rect x="166.50" y="97.35" width="1.30" height="1.30" fill="#1c2840" stroke="#1c2840" stroke-width="0.6"/>
<rect x="180.17" y="98.85" width="1.30" height="1.30" fill="#1c2840" stroke="#1c2840" stroke-width="0.6"/>
<rect x="193.84" y="99.35" width="1.30" height="1.30" fill="#1c2840" stroke="#1c2840" stroke-width="0.6"/>
<rect x="207.51" y="99.15" width="1.30" height="1.30" fill="#1c2840" stroke="#1c2840" stroke-width="0.6"/>
<rect x="221.18" y="98.55" width="1.30" height="1.30" fill="#1c2840" stroke="#1c2840" stroke-width="0.6"/>
<rect x="234.85" y="98.85" width="1.30" height="1.30" fill="#1c2840" stroke="#1c2840" stroke-width="0.6"/>
<rect x="98.15" y="102.15" width="1.30" height="1.30" fill="#1c2840" stroke="#1c2840" stroke-width="0.6"/>
<rect x="111.82" y="102.35" width="1.30" height="1.30" fill="#1c2840" stroke="#1c2840" stroke-width="0.6"/>
<rect x="125.49" y="103.85" width="1.30" height="1.30" fill="#1c2840" stroke="#1c2840" stroke-width="0.6"/>
<rect x="139.16" y="100.85" width="1.30" height="1.30" fill="#1c2840" stroke="#1c2840" stroke-width="0.6"/>
<rect x="152.83" y="103.85" width="1.30" height="1.30" fill="#1c2840" stroke="#1c2840" stroke-width="0.6"/>
<rect x="166.50" y="103.35" width="1.30" height="1.30" fill="#1c2840" stroke="#1c2840" stroke-width="0.6"/>
<rect x="180.17" y="101.35" width="1.30" height="1.30" fill="#1c2840" stroke="#1c2840" stroke-width="0.6"/>
<rect x="193.84" y="102.05" width="1.30" height="1.30" fill="#1c2840" stroke="#1c2840" stroke-width="0.6"/>
<rect x="207.51" y="101.45" width="1.30" height="1.30" fill="#1c2840" stroke="#1c2840" stroke-width="0.6"/>
<rect x="221.18" y="100.55" width="1.30" height="1.30" fill="#1c2840" stroke="#1c2840" stroke-width="0.6"/>
<rect x="234.85" y="99.15" width="1.30" height="1.30" fill="#1c2840" stroke="#1c2840" stroke-width="0.6"/>
<rect x="124.30" y="78.70" width="3.60" height="3.60" fill="#fff" stroke="#1a2a4a" stroke-width="0.7" transform="rotate(45 126.10 80.50)"/>
<polyline points="292.80,75.00 306.80,101.50 320.30,105.00 333.80,111.50" fill="none" stroke="#111" stroke-width="1.3" stroke-linejoin="round" />
<polyline points="292.80,79.50 306.80,103.00 320.30,107.50 333.80,112.50" fill="none" stroke="#111" stroke-width="1.3" stroke-linejoin="round" />
<polyline points="292.80,85.00 306.80,106.50 320.30,110.00 333.80,113.50" fill="none" stroke="#111" stroke-width="1.3" stroke-linejoin="round" />
<polyline points="292.80,89.00 306.80,110.00 320.30,112.50 333.80,114.50" fill="none" stroke="#111" stroke-width="1.3" stroke-linejoin="round" />
<polyline points="292.80,92.00 306.80,111.50 320.30,114.50 333.80,115.00" fill="none" stroke="#111" stroke-width="1.3" stroke-linejoin="round" />
<polyline points="292.80,97.00 306.80,104.00 320.30,108.00 333.80,113.00" fill="none" stroke="#111" stroke-width="1.3" stroke-linejoin="round" />
<rect x="291.70" y="73.90" width="2.20" height="2.20" fill="none" stroke="#e8a33a" stroke-width="0.7" transform="rotate(45 292.80 75.00)"/>
<rect x="305.70" y="100.40" width="2.20" height="2.20" fill="none" stroke="#e8a33a" stroke-width="0.7" transform="rotate(45 306.80 101.50)"/>
<rect x="319.20" y="103.90" width="2.20" height="2.20" fill="none" stroke="#e8a33a" stroke-width="0.7" transform="rotate(45 320.30 105.00)"/>
<rect x="332.70" y="110.40" width="2.20" height="2.20" fill="none" stroke="#e8a33a" stroke-width="0.7" transform="rotate(45 333.80 111.50)"/>
<rect x="291.70" y="78.40" width="2.20" height="2.20" fill="none" stroke="#e8a33a" stroke-width="0.7" transform="rotate(45 292.80 79.50)"/>
<rect x="305.70" y="101.90" width="2.20" height="2.20" fill="none" stroke="#e8a33a" stroke-width="0.7" transform="rotate(45 306.80 103.00)"/>
<rect x="319.20" y="106.40" width="2.20" height="2.20" fill="none" stroke="#e8a33a" stroke-width="0.7" transform="rotate(45 320.30 107.50)"/>
<rect x="332.70" y="111.40" width="2.20" height="2.20" fill="none" stroke="#e8a33a" stroke-width="0.7" transform="rotate(45 333.80 112.50)"/>
<rect x="291.70" y="83.90" width="2.20" height="2.20" fill="none" stroke="#e8a33a" stroke-width="0.7" transform="rotate(45 292.80 85.00)"/>
<rect x="305.70" y="105.40" width="2.20" height="2.20" fill="none" stroke="#e8a33a" stroke-width="0.7" transform="rotate(45 306.80 106.50)"/>
<rect x="319.20" y="108.90" width="2.20" height="2.20" fill="none" stroke="#e8a33a" stroke-width="0.7" transform="rotate(45 320.30 110.00)"/>
<rect x="332.70" y="112.40" width="2.20" height="2.20" fill="none" stroke="#e8a33a" stroke-width="0.7" transform="rotate(45 333.80 113.50)"/>
<rect x="291.70" y="87.90" width="2.20" height="2.20" fill="none" stroke="#e8a33a" stroke-width="0.7" transform="rotate(45 292.80 89.00)"/>
<rect x="305.70" y="108.90" width="2.20" height="2.20" fill="none" stroke="#e8a33a" stroke-width="0.7" transform="rotate(45 306.80 110.00)"/>
<rect x="319.20" y="111.40" width="2.20" height="2.20" fill="none" stroke="#e8a33a" stroke-width="0.7" transform="rotate(45 320.30 112.50)"/>
<rect x="332.70" y="113.40" width="2.20" height="2.20" fill="none" stroke="#e8a33a" stroke-width="0.7" transform="rotate(45 333.80 114.50)"/>
<rect x="291.70" y="90.90" width="2.20" height="2.20" fill="none" stroke="#e8a33a" stroke-width="0.7" transform="rotate(45 292.80 92.00)"/>
<rect x="305.70" y="110.40" width="2.20" height="2.20" fill="none" stroke="#e8a33a" stroke-width="0.7" transform="rotate(45 306.80 111.50)"/>
<rect x="319.20" y="113.40" width="2.20" height="2.20" fill="none" stroke="#e8a33a" stroke-width="0.7" transform="rotate(45 320.30 114.50)"/>
<rect x="332.70" y="113.90" width="2.20" height="2.20" fill="none" stroke="#e8a33a" stroke-width="0.7" transform="rotate(45 333.80 115.00)"/>
<rect x="291.70" y="95.90" width="2.20" height="2.20" fill="none" stroke="#e8a33a" stroke-width="0.7" transform="rotate(45 292.80 97.00)"/>
<rect x="305.70" y="102.90" width="2.20" height="2.20" fill="none" stroke="#e8a33a" stroke-width="0.7" transform="rotate(45 306.80 104.00)"/>
<rect x="319.20" y="106.90" width="2.20" height="2.20" fill="none" stroke="#e8a33a" stroke-width="0.7" transform="rotate(45 320.30 108.00)"/>
<rect x="332.70" y="111.90" width="2.20" height="2.20" fill="none" stroke="#e8a33a" stroke-width="0.7" transform="rotate(45 333.80 113.00)"/>
<polyline points="347.30,68.80 361.05,93.00 374.80,97.00 388.55,99.00 402.30,96.30 416.05,95.20 429.80,95.00 443.55,94.60 457.30,95.50 471.05,93.50 484.80,92.30" fill="none" stroke="#111" stroke-width="1.35" stroke-linejoin="round" />
<polyline points="347.30,81.50 361.05,86.00 374.80,91.00 388.55,92.00 402.30,77.30 416.05,95.20 429.80,97.50 443.55,97.50 457.30,98.60 471.05,98.00 484.80,96.90" fill="none" stroke="#111" stroke-width="1.35" stroke-linejoin="round" />
<polyline points="347.30,86.00 361.05,89.00 374.80,84.00 388.55,92.00 402.30,91.10 416.05,82.50 429.80,89.40 443.55,87.70 457.30,87.10 471.05,95.80 484.80,90.00" fill="none" stroke="#111" stroke-width="1.35" stroke-linejoin="round" />
<polyline points="347.30,90.00 361.05,94.00 374.80,99.00 388.55,95.00 402.30,97.50 416.05,97.50 429.80,97.50 443.55,90.00 457.30,91.00 471.05,98.00 484.80,98.00" fill="none" stroke="#111" stroke-width="1.35" stroke-linejoin="round" />
<polyline points="347.30,99.50 361.05,99.00 374.80,101.00 388.55,100.00 402.30,99.80 416.05,99.80 429.80,99.80 443.55,99.80 457.30,102.00 471.05,101.50 484.80,99.80" fill="none" stroke="#111" stroke-width="1.35" stroke-linejoin="round" />
<polyline points="347.30,102.00 361.05,102.50 374.80,102.50 388.55,103.50 402.30,102.00 416.05,102.00 429.80,102.00 443.55,102.00 457.30,104.40 471.05,103.30 484.80,99.80" fill="none" stroke="#111" stroke-width="1.35" stroke-linejoin="round" />
<line x1="347.30" y1="80.00" x2="347.30" y2="104.00" stroke="#e9b840" stroke-width="1.6" opacity="0.8"/>
<line x1="361.05" y1="84.00" x2="361.05" y2="104.00" stroke="#e9b840" stroke-width="1.6" opacity="0.8"/>
<line x1="374.80" y1="83.00" x2="374.80" y2="104.00" stroke="#e9b840" stroke-width="1.6" opacity="0.8"/>
<line x1="388.55" y1="88.00" x2="388.55" y2="104.00" stroke="#e9b840" stroke-width="1.6" opacity="0.8"/>
<line x1="402.30" y1="88.00" x2="402.30" y2="103.00" stroke="#e9b840" stroke-width="1.6" opacity="0.8"/>
<line x1="416.05" y1="91.00" x2="416.05" y2="104.00" stroke="#e9b840" stroke-width="1.6" opacity="0.8"/>
<line x1="429.80" y1="89.00" x2="429.80" y2="103.00" stroke="#e9b840" stroke-width="1.6" opacity="0.8"/>
<line x1="443.55" y1="87.00" x2="443.55" y2="104.00" stroke="#e9b840" stroke-width="1.6" opacity="0.8"/>
<line x1="457.30" y1="87.00" x2="457.30" y2="107.00" stroke="#e9b840" stroke-width="1.6" opacity="0.8"/>
<line x1="471.05" y1="93.00" x2="471.05" y2="105.00" stroke="#e9b840" stroke-width="1.6" opacity="0.8"/>
<line x1="484.80" y1="89.00" x2="484.80" y2="102.00" stroke="#e9b840" stroke-width="1.6" opacity="0.8"/>
<rect x="346.20" y="67.70" width="2.20" height="2.20" fill="none" stroke="#e8a33a" stroke-width="0.7" transform="rotate(45 347.30 68.80)"/>
<rect x="359.95" y="91.90" width="2.20" height="2.20" fill="none" stroke="#e8a33a" stroke-width="0.7" transform="rotate(45 361.05 93.00)"/>
<rect x="373.70" y="95.90" width="2.20" height="2.20" fill="none" stroke="#e8a33a" stroke-width="0.7" transform="rotate(45 374.80 97.00)"/>
<rect x="387.45" y="97.90" width="2.20" height="2.20" fill="none" stroke="#e8a33a" stroke-width="0.7" transform="rotate(45 388.55 99.00)"/>
<rect x="401.20" y="95.20" width="2.20" height="2.20" fill="none" stroke="#e8a33a" stroke-width="0.7" transform="rotate(45 402.30 96.30)"/>
<rect x="414.95" y="94.10" width="2.20" height="2.20" fill="none" stroke="#e8a33a" stroke-width="0.7" transform="rotate(45 416.05 95.20)"/>
<rect x="428.70" y="93.90" width="2.20" height="2.20" fill="none" stroke="#e8a33a" stroke-width="0.7" transform="rotate(45 429.80 95.00)"/>
<rect x="442.45" y="93.50" width="2.20" height="2.20" fill="none" stroke="#e8a33a" stroke-width="0.7" transform="rotate(45 443.55 94.60)"/>
<rect x="456.20" y="94.40" width="2.20" height="2.20" fill="none" stroke="#e8a33a" stroke-width="0.7" transform="rotate(45 457.30 95.50)"/>
<rect x="469.95" y="92.40" width="2.20" height="2.20" fill="none" stroke="#e8a33a" stroke-width="0.7" transform="rotate(45 471.05 93.50)"/>
<rect x="483.70" y="91.20" width="2.20" height="2.20" fill="none" stroke="#e8a33a" stroke-width="0.7" transform="rotate(45 484.80 92.30)"/>
<rect x="346.20" y="80.40" width="2.20" height="2.20" fill="none" stroke="#e8a33a" stroke-width="0.7" transform="rotate(45 347.30 81.50)"/>
<rect x="359.95" y="84.90" width="2.20" height="2.20" fill="none" stroke="#e8a33a" stroke-width="0.7" transform="rotate(45 361.05 86.00)"/>
<rect x="373.70" y="89.90" width="2.20" height="2.20" fill="none" stroke="#e8a33a" stroke-width="0.7" transform="rotate(45 374.80 91.00)"/>
<rect x="387.45" y="90.90" width="2.20" height="2.20" fill="none" stroke="#e8a33a" stroke-width="0.7" transform="rotate(45 388.55 92.00)"/>
<rect x="401.20" y="76.20" width="2.20" height="2.20" fill="none" stroke="#e8a33a" stroke-width="0.7" transform="rotate(45 402.30 77.30)"/>
<rect x="414.95" y="94.10" width="2.20" height="2.20" fill="none" stroke="#e8a33a" stroke-width="0.7" transform="rotate(45 416.05 95.20)"/>
<rect x="428.70" y="96.40" width="2.20" height="2.20" fill="none" stroke="#e8a33a" stroke-width="0.7" transform="rotate(45 429.80 97.50)"/>
<rect x="442.45" y="96.40" width="2.20" height="2.20" fill="none" stroke="#e8a33a" stroke-width="0.7" transform="rotate(45 443.55 97.50)"/>
<rect x="456.20" y="97.50" width="2.20" height="2.20" fill="none" stroke="#e8a33a" stroke-width="0.7" transform="rotate(45 457.30 98.60)"/>
<rect x="469.95" y="96.90" width="2.20" height="2.20" fill="none" stroke="#e8a33a" stroke-width="0.7" transform="rotate(45 471.05 98.00)"/>
<rect x="483.70" y="95.80" width="2.20" height="2.20" fill="none" stroke="#e8a33a" stroke-width="0.7" transform="rotate(45 484.80 96.90)"/>
<rect x="346.20" y="84.90" width="2.20" height="2.20" fill="none" stroke="#e8a33a" stroke-width="0.7" transform="rotate(45 347.30 86.00)"/>
<rect x="359.95" y="87.90" width="2.20" height="2.20" fill="none" stroke="#e8a33a" stroke-width="0.7" transform="rotate(45 361.05 89.00)"/>
<rect x="373.70" y="82.90" width="2.20" height="2.20" fill="none" stroke="#e8a33a" stroke-width="0.7" transform="rotate(45 374.80 84.00)"/>
<rect x="387.45" y="90.90" width="2.20" height="2.20" fill="none" stroke="#e8a33a" stroke-width="0.7" transform="rotate(45 388.55 92.00)"/>
<rect x="401.20" y="90.00" width="2.20" height="2.20" fill="none" stroke="#e8a33a" stroke-width="0.7" transform="rotate(45 402.30 91.10)"/>
<rect x="414.95" y="81.40" width="2.20" height="2.20" fill="none" stroke="#e8a33a" stroke-width="0.7" transform="rotate(45 416.05 82.50)"/>
<rect x="428.70" y="88.30" width="2.20" height="2.20" fill="none" stroke="#e8a33a" stroke-width="0.7" transform="rotate(45 429.80 89.40)"/>
<rect x="442.45" y="86.60" width="2.20" height="2.20" fill="none" stroke="#e8a33a" stroke-width="0.7" transform="rotate(45 443.55 87.70)"/>
<rect x="456.20" y="86.00" width="2.20" height="2.20" fill="none" stroke="#e8a33a" stroke-width="0.7" transform="rotate(45 457.30 87.10)"/>
<rect x="469.95" y="94.70" width="2.20" height="2.20" fill="none" stroke="#e8a33a" stroke-width="0.7" transform="rotate(45 471.05 95.80)"/>
<rect x="483.70" y="88.90" width="2.20" height="2.20" fill="none" stroke="#e8a33a" stroke-width="0.7" transform="rotate(45 484.80 90.00)"/>
<rect x="346.20" y="88.90" width="2.20" height="2.20" fill="none" stroke="#e8a33a" stroke-width="0.7" transform="rotate(45 347.30 90.00)"/>
<rect x="359.95" y="92.90" width="2.20" height="2.20" fill="none" stroke="#e8a33a" stroke-width="0.7" transform="rotate(45 361.05 94.00)"/>
<rect x="373.70" y="97.90" width="2.20" height="2.20" fill="none" stroke="#e8a33a" stroke-width="0.7" transform="rotate(45 374.80 99.00)"/>
<rect x="387.45" y="93.90" width="2.20" height="2.20" fill="none" stroke="#e8a33a" stroke-width="0.7" transform="rotate(45 388.55 95.00)"/>
<rect x="401.20" y="96.40" width="2.20" height="2.20" fill="none" stroke="#e8a33a" stroke-width="0.7" transform="rotate(45 402.30 97.50)"/>
<rect x="414.95" y="96.40" width="2.20" height="2.20" fill="none" stroke="#e8a33a" stroke-width="0.7" transform="rotate(45 416.05 97.50)"/>
<rect x="428.70" y="96.40" width="2.20" height="2.20" fill="none" stroke="#e8a33a" stroke-width="0.7" transform="rotate(45 429.80 97.50)"/>
<rect x="442.45" y="88.90" width="2.20" height="2.20" fill="none" stroke="#e8a33a" stroke-width="0.7" transform="rotate(45 443.55 90.00)"/>
<rect x="456.20" y="89.90" width="2.20" height="2.20" fill="none" stroke="#e8a33a" stroke-width="0.7" transform="rotate(45 457.30 91.00)"/>
<rect x="469.95" y="96.90" width="2.20" height="2.20" fill="none" stroke="#e8a33a" stroke-width="0.7" transform="rotate(45 471.05 98.00)"/>
<rect x="483.70" y="96.90" width="2.20" height="2.20" fill="none" stroke="#e8a33a" stroke-width="0.7" transform="rotate(45 484.80 98.00)"/>
<rect x="346.20" y="98.40" width="2.20" height="2.20" fill="none" stroke="#e8a33a" stroke-width="0.7" transform="rotate(45 347.30 99.50)"/>
<rect x="359.95" y="97.90" width="2.20" height="2.20" fill="none" stroke="#e8a33a" stroke-width="0.7" transform="rotate(45 361.05 99.00)"/>
<rect x="373.70" y="99.90" width="2.20" height="2.20" fill="none" stroke="#e8a33a" stroke-width="0.7" transform="rotate(45 374.80 101.00)"/>
<rect x="387.45" y="98.90" width="2.20" height="2.20" fill="none" stroke="#e8a33a" stroke-width="0.7" transform="rotate(45 388.55 100.00)"/>
<rect x="401.20" y="98.70" width="2.20" height="2.20" fill="none" stroke="#e8a33a" stroke-width="0.7" transform="rotate(45 402.30 99.80)"/>
<rect x="414.95" y="98.70" width="2.20" height="2.20" fill="none" stroke="#e8a33a" stroke-width="0.7" transform="rotate(45 416.05 99.80)"/>
<rect x="428.70" y="98.70" width="2.20" height="2.20" fill="none" stroke="#e8a33a" stroke-width="0.7" transform="rotate(45 429.80 99.80)"/>
<rect x="442.45" y="98.70" width="2.20" height="2.20" fill="none" stroke="#e8a33a" stroke-width="0.7" transform="rotate(45 443.55 99.80)"/>
<rect x="456.20" y="100.90" width="2.20" height="2.20" fill="none" stroke="#e8a33a" stroke-width="0.7" transform="rotate(45 457.30 102.00)"/>
<rect x="469.95" y="100.40" width="2.20" height="2.20" fill="none" stroke="#e8a33a" stroke-width="0.7" transform="rotate(45 471.05 101.50)"/>
<rect x="483.70" y="98.70" width="2.20" height="2.20" fill="none" stroke="#e8a33a" stroke-width="0.7" transform="rotate(45 484.80 99.80)"/>
<rect x="346.20" y="100.90" width="2.20" height="2.20" fill="none" stroke="#e8a33a" stroke-width="0.7" transform="rotate(45 347.30 102.00)"/>
<rect x="359.95" y="101.40" width="2.20" height="2.20" fill="none" stroke="#e8a33a" stroke-width="0.7" transform="rotate(45 361.05 102.50)"/>
<rect x="373.70" y="101.40" width="2.20" height="2.20" fill="none" stroke="#e8a33a" stroke-width="0.7" transform="rotate(45 374.80 102.50)"/>
<rect x="387.45" y="102.40" width="2.20" height="2.20" fill="none" stroke="#e8a33a" stroke-width="0.7" transform="rotate(45 388.55 103.50)"/>
<rect x="401.20" y="100.90" width="2.20" height="2.20" fill="none" stroke="#e8a33a" stroke-width="0.7" transform="rotate(45 402.30 102.00)"/>
<rect x="414.95" y="100.90" width="2.20" height="2.20" fill="none" stroke="#e8a33a" stroke-width="0.7" transform="rotate(45 416.05 102.00)"/>
<rect x="428.70" y="100.90" width="2.20" height="2.20" fill="none" stroke="#e8a33a" stroke-width="0.7" transform="rotate(45 429.80 102.00)"/>
<rect x="442.45" y="100.90" width="2.20" height="2.20" fill="none" stroke="#e8a33a" stroke-width="0.7" transform="rotate(45 443.55 102.00)"/>
<rect x="456.20" y="103.30" width="2.20" height="2.20" fill="none" stroke="#e8a33a" stroke-width="0.7" transform="rotate(45 457.30 104.40)"/>
<rect x="469.95" y="102.20" width="2.20" height="2.20" fill="none" stroke="#e8a33a" stroke-width="0.7" transform="rotate(45 471.05 103.30)"/>
<rect x="483.70" y="98.70" width="2.20" height="2.20" fill="none" stroke="#e8a33a" stroke-width="0.7" transform="rotate(45 484.80 99.80)"/>
<line x1="155.50" y1="191.20" x2="155.50" y2="266.00" stroke="#8cc063" stroke-width="0.9" />
<line x1="153.20" y1="191.50" x2="157.80" y2="191.50" stroke="#8cc063" stroke-width="0.8" />
<line x1="154.50" y1="191.00" x2="154.50" y2="266.00" stroke="#6b6b2a" stroke-width="1.0" />
<line x1="155.50" y1="228.00" x2="155.50" y2="266.00" stroke="#243f78" stroke-width="1.0" />
<line x1="155.50" y1="236.00" x2="155.50" y2="266.00" stroke="#9a2040" stroke-width="1.0" />
<polyline points="155.50,214.70 160.80,266.00" fill="none" stroke="#8cc063" stroke-width="1.1" stroke-linejoin="round" />
<polyline points="155.30,235.50 159.80,266.00" fill="none" stroke="#243f78" stroke-width="1.1" stroke-linejoin="round" />
<polyline points="155.80,241.00 159.30,266.00" fill="none" stroke="#9a2040" stroke-width="1.1" stroke-linejoin="round" />
<polyline points="155.00,224.00 158.50,266.00" fill="none" stroke="#6b6b2a" stroke-width="1.0" stroke-linejoin="round" />
<circle cx="155.50" cy="214.70" r="1.40" fill="#fff" stroke="#8cc063" stroke-width="0.7"/>
<rect x="154.20" y="234.40" width="2.20" height="2.20" fill="#243f78" stroke="#243f78" stroke-width="0.6"/>
<rect x="154.70" y="239.90" width="2.20" height="2.20" fill="#9a2040" stroke="#9a2040" stroke-width="0.6"/>
<polyline points="160.20,271.50 161.23,283.00" fill="none" stroke="#243f78" stroke-width="1.3" stroke-linejoin="round" />
<polyline points="159.60,271.50 161.23,279.00" fill="none" stroke="#9a2040" stroke-width="1.3" stroke-linejoin="round" />
<polyline points="161.80,271.50 161.23,276.00" fill="none" stroke="#8cc063" stroke-width="1.3" stroke-linejoin="round" />
<polyline points="161.23,282.00 166.69,289.00 172.14,292.00 177.59,293.00 188.50,293.50 199.40,294.00 221.22,294.00 243.03,294.00 253.93,294.00 264.84,294.00 286.65,294.50 308.46,294.00 319.37,294.00 330.27,294.00 352.09,290.60" fill="none" stroke="#e6a943" stroke-width="1.0" stroke-linejoin="round" />
<polyline points="161.23,276.00 166.69,283.00 172.14,287.00 177.59,290.00 188.50,291.00 199.40,291.50 221.22,291.40 243.03,291.50 253.93,292.00 264.84,289.90 286.65,292.60 308.46,291.00 319.37,292.50 330.27,292.20 352.09,288.30" fill="none" stroke="#8cc063" stroke-width="1.0" stroke-linejoin="round" />
<polyline points="161.23,279.00 166.69,286.80 172.14,287.50 177.59,289.90 188.50,289.00 199.40,291.40 221.22,292.00 243.03,293.70 253.93,290.60 264.84,292.00 286.65,287.00 308.46,291.70 319.37,293.50 330.27,294.00 352.09,291.40" fill="none" stroke="#9a2040" stroke-width="1.0" stroke-linejoin="round" />
<polyline points="161.23,283.00 166.69,290.60 172.14,293.70 177.59,293.50 188.50,293.50 199.40,294.00 221.22,289.00 243.03,284.40 253.93,293.70 264.84,291.40 286.65,294.30 308.46,290.80 319.37,293.50 330.27,292.00 352.09,294.20" fill="none" stroke="#243f78" stroke-width="1.0" stroke-linejoin="round" />
<line x1="161.50" y1="274.00" x2="161.50" y2="289.00" stroke="#243f78" stroke-width="0.75" />
<line x1="159.93" y1="274.50" x2="162.53" y2="274.50" stroke="#243f78" stroke-width="0.75" />
<line x1="159.93" y1="289.50" x2="162.53" y2="289.50" stroke="#243f78" stroke-width="0.75" />
<line x1="166.50" y1="272.00" x2="166.50" y2="301.50" stroke="#9a2040" stroke-width="0.75" />
<line x1="165.38" y1="272.50" x2="167.99" y2="272.50" stroke="#9a2040" stroke-width="0.75" />
<line x1="165.38" y1="301.50" x2="167.99" y2="301.50" stroke="#9a2040" stroke-width="0.75" />
<line x1="172.50" y1="277.50" x2="172.50" y2="297.60" stroke="#9a2040" stroke-width="0.75" />
<line x1="170.84" y1="277.50" x2="173.44" y2="277.50" stroke="#9a2040" stroke-width="0.75" />
<line x1="170.84" y1="297.50" x2="173.44" y2="297.50" stroke="#9a2040" stroke-width="0.75" />
<line x1="177.50" y1="278.00" x2="177.50" y2="300.00" stroke="#9a2040" stroke-width="0.75" />
<line x1="176.29" y1="278.50" x2="178.89" y2="278.50" stroke="#9a2040" stroke-width="0.75" />
<line x1="176.29" y1="300.50" x2="178.89" y2="300.50" stroke="#9a2040" stroke-width="0.75" />
<line x1="188.50" y1="281.30" x2="188.50" y2="297.60" stroke="#9a2040" stroke-width="0.75" />
<line x1="187.20" y1="281.50" x2="189.80" y2="281.50" stroke="#9a2040" stroke-width="0.75" />
<line x1="187.20" y1="297.50" x2="189.80" y2="297.50" stroke="#9a2040" stroke-width="0.75" />
<line x1="199.50" y1="286.00" x2="199.50" y2="297.60" stroke="#9a2040" stroke-width="0.75" />
<line x1="198.10" y1="286.50" x2="200.70" y2="286.50" stroke="#9a2040" stroke-width="0.75" />
<line x1="198.10" y1="297.50" x2="200.70" y2="297.50" stroke="#9a2040" stroke-width="0.75" />
<line x1="172.50" y1="279.00" x2="172.50" y2="297.00" stroke="#243f78" stroke-width="0.75" />
<line x1="170.84" y1="279.50" x2="173.44" y2="279.50" stroke="#243f78" stroke-width="0.75" />
<line x1="170.84" y1="297.50" x2="173.44" y2="297.50" stroke="#243f78" stroke-width="0.75" />
<line x1="221.50" y1="277.50" x2="221.50" y2="301.50" stroke="#243f78" stroke-width="0.75" />
<line x1="219.91" y1="277.50" x2="222.52" y2="277.50" stroke="#243f78" stroke-width="0.75" />
<line x1="219.91" y1="301.50" x2="222.52" y2="301.50" stroke="#243f78" stroke-width="0.75" />
<line x1="243.50" y1="264.30" x2="243.50" y2="304.60" stroke="#243f78" stroke-width="0.75" />
<line x1="241.73" y1="264.50" x2="244.33" y2="264.50" stroke="#243f78" stroke-width="0.75" />
<line x1="241.73" y1="304.50" x2="244.33" y2="304.50" stroke="#243f78" stroke-width="0.75" />
<line x1="264.50" y1="277.50" x2="264.50" y2="303.80" stroke="#243f78" stroke-width="0.75" />
<line x1="263.54" y1="277.50" x2="266.14" y2="277.50" stroke="#243f78" stroke-width="0.75" />
<line x1="263.54" y1="303.50" x2="266.14" y2="303.50" stroke="#243f78" stroke-width="0.75" />
<line x1="286.50" y1="271.60" x2="286.50" y2="304.00" stroke="#9a2040" stroke-width="0.75" />
<line x1="285.35" y1="271.50" x2="287.95" y2="271.50" stroke="#9a2040" stroke-width="0.75" />
<line x1="285.35" y1="304.50" x2="287.95" y2="304.50" stroke="#9a2040" stroke-width="0.75" />
<line x1="308.50" y1="284.70" x2="308.50" y2="297.80" stroke="#243f78" stroke-width="0.75" />
<line x1="307.16" y1="284.50" x2="309.76" y2="284.50" stroke="#243f78" stroke-width="0.75" />
<line x1="307.16" y1="297.50" x2="309.76" y2="297.50" stroke="#243f78" stroke-width="0.75" />
<line x1="319.50" y1="286.50" x2="319.50" y2="300.50" stroke="#243f78" stroke-width="0.75" />
<line x1="318.07" y1="286.50" x2="320.67" y2="286.50" stroke="#243f78" stroke-width="0.75" />
<line x1="318.07" y1="300.50" x2="320.67" y2="300.50" stroke="#243f78" stroke-width="0.75" />
<line x1="330.50" y1="281.00" x2="330.50" y2="301.30" stroke="#8cc063" stroke-width="0.75" />
<line x1="328.97" y1="281.50" x2="331.57" y2="281.50" stroke="#8cc063" stroke-width="0.75" />
<line x1="328.97" y1="301.50" x2="331.57" y2="301.50" stroke="#8cc063" stroke-width="0.75" />
<line x1="352.50" y1="275.00" x2="352.50" y2="306.00" stroke="#8cc063" stroke-width="0.75" />
<line x1="350.79" y1="275.50" x2="353.39" y2="275.50" stroke="#8cc063" stroke-width="0.75" />
<line x1="350.79" y1="306.50" x2="353.39" y2="306.50" stroke="#8cc063" stroke-width="0.75" />
<line x1="253.50" y1="287.00" x2="253.50" y2="299.00" stroke="#9a2040" stroke-width="0.75" />
<line x1="252.63" y1="287.50" x2="255.23" y2="287.50" stroke="#9a2040" stroke-width="0.75" />
<line x1="252.63" y1="299.50" x2="255.23" y2="299.50" stroke="#9a2040" stroke-width="0.75" />
<line x1="285.35" y1="265.50" x2="287.95" y2="265.50" stroke="#9a2040" stroke-width="0.9" />
<polygon points="241.53,263.3 244.53,263.3 243.03,265.6" fill="#243f78"/>
<rect x="160.23" y="282.00" width="2.00" height="2.00" fill="#243f78" stroke="#243f78" stroke-width="0.6"/>
<rect x="165.69" y="289.60" width="2.00" height="2.00" fill="#243f78" stroke="#243f78" stroke-width="0.6"/>
<rect x="171.14" y="292.70" width="2.00" height="2.00" fill="#243f78" stroke="#243f78" stroke-width="0.6"/>
<rect x="176.59" y="292.50" width="2.00" height="2.00" fill="#243f78" stroke="#243f78" stroke-width="0.6"/>
<rect x="187.50" y="292.50" width="2.00" height="2.00" fill="#243f78" stroke="#243f78" stroke-width="0.6"/>
<rect x="198.40" y="293.00" width="2.00" height="2.00" fill="#243f78" stroke="#243f78" stroke-width="0.6"/>
<rect x="220.22" y="288.00" width="2.00" height="2.00" fill="#243f78" stroke="#243f78" stroke-width="0.6"/>
<rect x="242.03" y="283.40" width="2.00" height="2.00" fill="#243f78" stroke="#243f78" stroke-width="0.6"/>
<rect x="252.93" y="292.70" width="2.00" height="2.00" fill="#243f78" stroke="#243f78" stroke-width="0.6"/>
<rect x="263.84" y="290.40" width="2.00" height="2.00" fill="#243f78" stroke="#243f78" stroke-width="0.6"/>
<rect x="285.65" y="293.30" width="2.00" height="2.00" fill="#243f78" stroke="#243f78" stroke-width="0.6"/>
<rect x="307.46" y="289.80" width="2.00" height="2.00" fill="#243f78" stroke="#243f78" stroke-width="0.6"/>
<rect x="318.37" y="292.50" width="2.00" height="2.00" fill="#243f78" stroke="#243f78" stroke-width="0.6"/>
<rect x="329.27" y="291.00" width="2.00" height="2.00" fill="#243f78" stroke="#243f78" stroke-width="0.6"/>
<rect x="351.09" y="293.20" width="2.00" height="2.00" fill="#243f78" stroke="#243f78" stroke-width="0.6"/>
<rect x="160.23" y="278.00" width="2.00" height="2.00" fill="#9a2040" stroke="#9a2040" stroke-width="0.6"/>
<rect x="165.69" y="285.80" width="2.00" height="2.00" fill="#9a2040" stroke="#9a2040" stroke-width="0.6"/>
<rect x="171.14" y="286.50" width="2.00" height="2.00" fill="#9a2040" stroke="#9a2040" stroke-width="0.6"/>
<rect x="176.59" y="288.90" width="2.00" height="2.00" fill="#9a2040" stroke="#9a2040" stroke-width="0.6"/>
<rect x="187.50" y="288.00" width="2.00" height="2.00" fill="#9a2040" stroke="#9a2040" stroke-width="0.6"/>
<rect x="198.40" y="290.40" width="2.00" height="2.00" fill="#9a2040" stroke="#9a2040" stroke-width="0.6"/>
<rect x="220.22" y="291.00" width="2.00" height="2.00" fill="#9a2040" stroke="#9a2040" stroke-width="0.6"/>
<rect x="242.03" y="292.70" width="2.00" height="2.00" fill="#9a2040" stroke="#9a2040" stroke-width="0.6"/>
<rect x="252.93" y="289.60" width="2.00" height="2.00" fill="#9a2040" stroke="#9a2040" stroke-width="0.6"/>
<rect x="263.84" y="291.00" width="2.00" height="2.00" fill="#9a2040" stroke="#9a2040" stroke-width="0.6"/>
<rect x="285.65" y="286.00" width="2.00" height="2.00" fill="#9a2040" stroke="#9a2040" stroke-width="0.6"/>
<rect x="307.46" y="290.70" width="2.00" height="2.00" fill="#9a2040" stroke="#9a2040" stroke-width="0.6"/>
<rect x="318.37" y="292.50" width="2.00" height="2.00" fill="#9a2040" stroke="#9a2040" stroke-width="0.6"/>
<rect x="329.27" y="293.00" width="2.00" height="2.00" fill="#9a2040" stroke="#9a2040" stroke-width="0.6"/>
<rect x="351.09" y="290.40" width="2.00" height="2.00" fill="#9a2040" stroke="#9a2040" stroke-width="0.6"/>
<polyline points="352.09,290.60 373.90,294.50" fill="none" stroke="#e6a943" stroke-width="1.2" stroke-linejoin="round" />
<line x1="373.50" y1="290.60" x2="373.50" y2="299.00" stroke="#e6a943" stroke-width="0.8" />
<line x1="372.60" y1="290.50" x2="375.20" y2="290.50" stroke="#e6a943" stroke-width="0.8" />
<line x1="372.60" y1="299.50" x2="375.20" y2="299.50" stroke="#e6a943" stroke-width="0.8" />
<rect x="372.40" y="293.00" width="3.00" height="3.00" fill="#fff" stroke="#e6a943" stroke-width="0.7" transform="rotate(45 373.90 294.50)"/>
<rect x="0.5" y="0.5" width="519" height="348" fill="none" stroke="#000" stroke-width="1"/>
</svg></body></html>
